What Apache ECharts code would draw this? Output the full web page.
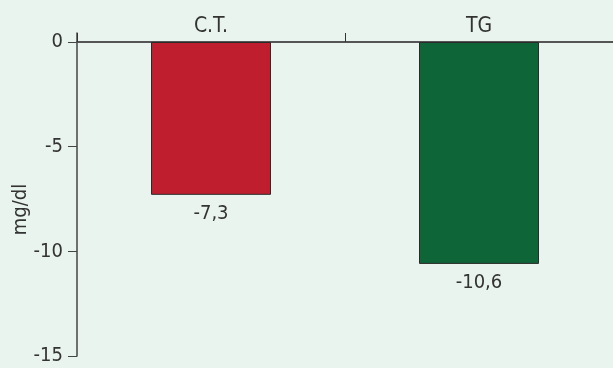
<!DOCTYPE html>
<html>
<head>
<meta charset="utf-8">
<script src="https://cdn.jsdelivr.net/npm/echarts@6/dist/echarts.min.js"></script>
<style>
  html, body { margin: 0; padding: 0; background: #e8f4ed; }
  #chart { width: 613px; height: 368px; }
</style>
</head>
<body>
<div id="chart"></div>
<script>
// Change in lipids (mg/dl)
const categories = ['C.T.', 'TG'];
const changes = [-7.3, -10.6];
const barColors = ['#be1e2d', '#0e6538'];
const yTicks = [-15, -10, -5, 0];

const FONT = '"DejaVu Sans Condensed", "DejaVu Sans", sans-serif';

const chart = echarts.init(document.getElementById('chart'), null, { renderer: 'canvas' });

chart.setOption({
  backgroundColor: '#e8f4ed',
  animation: false,
  grid: { left: 77, right: 0, top: 33, bottom: 12, containLabel: false, outerBoundsMode: 'none' },
  xAxis: {
    type: 'category',
    position: 'top',
    data: categories,
    axisLine: { onZero: true, lineStyle: { color: '#555', width: 2 } },
    axisTick: { show: true, length: 9, lineStyle: { color: '#333', width: 1 } },
    axisLabel: { color: '#333', fontFamily: FONT, fontSize: 21, margin: -4 }
  },
  yAxis: {
    type: 'value',
    min: -15,
    max: 0.43,
    interval: 5,
    name: 'mg/dl',
    nameLocation: 'middle',
    nameGap: 46,
    nameMoveOverlap: false,
    nameRotate: 90,
    nameTextStyle: { color: '#333', fontFamily: FONT, fontSize: 20, padding: [0, 30, 0, 0] },
    axisLine: { show: true, lineStyle: { color: '#444', width: 1.5 } },
    axisTick: { show: true, length: 9, customValues: yTicks, lineStyle: { color: '#444', width: 1 } },
    axisLabel: { customValues: yTicks, color: '#333', fontFamily: FONT, fontSize: 20, margin: 14 },
    splitLine: { show: false }
  },
  series: [{
    type: 'bar',
    barWidth: 120,
    data: changes.map((v, i) => ({
      value: v,
      itemStyle: { color: barColors[i], borderColor: '#2a2a2a', borderWidth: 1 }
    })),
    label: {
      show: true,
      position: 'bottom',
      distance: 9,
      color: '#333',
      fontFamily: FONT,
      fontSize: 20,
      formatter: p => String(p.value).replace('.', ',')
    }
  }]
});
</script>
</body>
</html>
